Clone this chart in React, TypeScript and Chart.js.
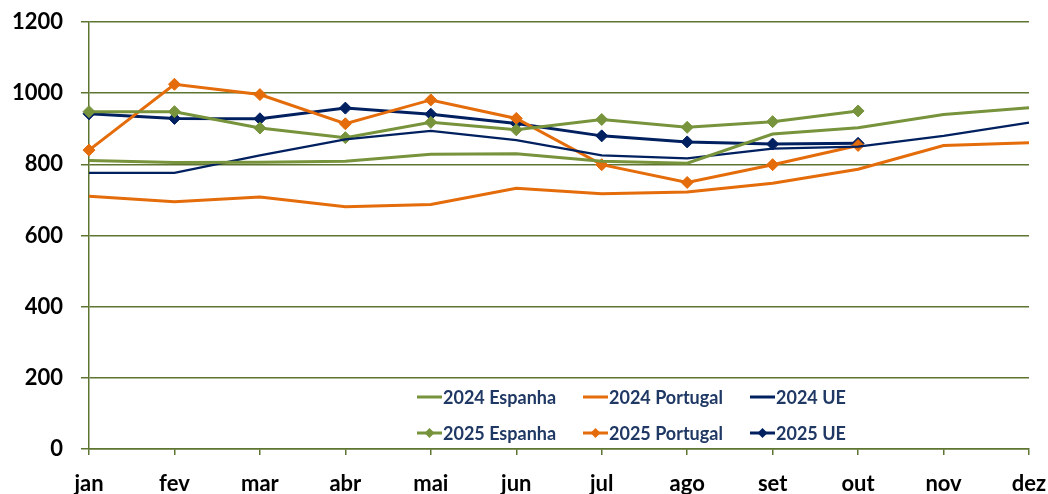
import React, { useEffect, useRef } from "react";
import { Chart, registerables } from "chart.js";

Chart.register(...registerables);

const months = ["jan", "fev", "mar", "abr", "mai", "jun", "jul", "ago", "set", "out", "nov", "dez"];
const yTicks = [0, 200, 400, 600, 800, 1000, 1200];

const es2024 = [811, 805, 806, 809, 828, 830, 809, 803, 885, 903, 940, 959];
const pt2024 = [710, 695, 708, 681, 687, 733, 717, 722, 747, 786, 853, 861];
const ue2024 = [776, 776, 825, 870, 894, 868, 825, 817, 844, 850, 880, 917];
const es2025 = [948, 948, 902, 875, 918, 897, 926, 904, 920, 950, null, null];
const pt2025 = [840, 1025, 996, 914, 981, 929, 799, 749, 799, 853, null, null];
const ue2025 = [942, 929, 928, 958, 941, 915, 880, 863, 857, 859, null, null];

const GREEN = "#77933c";
const ORANGE = "#e46c0a";
const NAVY = "#002060";
const GRID = "#5e7431";
const LEGEND_TEXT = "#1f3864";
const FONT = "Lato, 'Open Sans', sans-serif";

const legendPlugin = {
  id: "customLegend",
  afterDraw(chart: any) {
    const ctx = chart.ctx;
    const cols = [417, 583, 750];
    const rows = [397, 433];
    ctx.save();
    ctx.font = `bold 18px ${FONT}`;
    ctx.textBaseline = "middle";
    ctx.textAlign = "left";
    chart.data.datasets.forEach((ds: any, i: number) => {
      const x = cols[i % 3];
      const y = rows[Math.floor(i / 3)];
      ctx.strokeStyle = ds.borderColor;
      ctx.lineWidth = 3;
      ctx.beginPath();
      ctx.moveTo(x, y);
      ctx.lineTo(x + 25, y);
      ctx.stroke();
      if (ds.pointRadius > 0) {
        const cx = x + 12.5;
        const r = 5;
        ctx.fillStyle = ds.borderColor;
        ctx.beginPath();
        ctx.moveTo(cx, y - r);
        ctx.lineTo(cx + r, y);
        ctx.lineTo(cx, y + r);
        ctx.lineTo(cx - r, y);
        ctx.closePath();
        ctx.fill();
      }
      ctx.fillStyle = LEGEND_TEXT;
      ctx.fillText(ds.label, x + 26, y + 1);
    });
    ctx.restore();
  },
};

export default function App() {
  const ref = useRef<HTMLCanvasElement | null>(null);

  useEffect(() => {
    if (!ref.current) return;
    const line = (label: string, data: (number | null)[], color: string, width: number, marker: boolean) => ({
      label,
      data,
      borderColor: color,
      backgroundColor: color,
      borderWidth: width,
      pointRadius: marker ? 6 : 0,
      pointHoverRadius: marker ? 6 : 0,
      pointStyle: "rectRot",
      pointBorderWidth: 1,
      tension: 0,
      spanGaps: false,
    });
    const chart = new Chart(ref.current, {
      type: "line",
      data: {
        labels: months,
        datasets: [
          line("2024 Espanha", es2024, GREEN, 3, false),
          line("2024 Portugal", pt2024, ORANGE, 3, false),
          line("2024 UE", ue2024, NAVY, 2.2, false),
          line("2025 Espanha", es2025, GREEN, 3, true),
          line("2025 Portugal", pt2025, ORANGE, 3, true),
          line("2025 UE", ue2025, NAVY, 3, true),
        ] as any,
      },
      options: {
        animation: false,
        responsive: false,
        maintainAspectRatio: false,
        layout: { padding: { left: 0, right: 19, top: 22, bottom: 0 } },
        plugins: {
          legend: { display: false },
          tooltip: { enabled: false },
          title: { display: false },
        },
        scales: {
          x: {
            type: "category",
            offset: false,
            grid: {
              drawOnChartArea: false,
              drawTicks: true,
              tickLength: 6,
              color: GRID,
              lineWidth: 1.5,
            },
            border: { display: true, color: GRID, width: 1.5 },
            ticks: {
              color: "#000",
              font: { family: FONT, size: 22, weight: "bold" },
              padding: 16,
              maxRotation: 0,
              autoSkip: false,
            },
            afterFit(scale: any) {
              scale.height = 45;
              scale.paddingLeft = 0;
              scale.paddingRight = 0;
            },
          },
          y: {
            min: 0,
            max: 1200,
            afterBuildTicks(scale: any) {
              scale.ticks = yTicks.map((v) => ({ value: v }));
            },
            grid: {
              drawOnChartArea: true,
              drawTicks: true,
              tickLength: 8,
              color: GRID,
              lineWidth: 1.5,
            },
            border: { display: true, color: GRID, width: 1.5 },
            ticks: {
              color: "#000",
              font: { family: FONT, size: 22, weight: "bold" },
              padding: 18,
              callback: (v: any) => String(v),
            },
            afterFit(scale: any) {
              scale.width = 89;
              scale.paddingTop = 0;
              scale.paddingBottom = 0;
            },
          },
        },
      } as any,
      plugins: [legendPlugin],
    });
    return () => chart.destroy();
  }, []);

  return (
    <div style={{ position: "fixed", left: 0, top: 0, width: 1048, height: 494, background: "#fff" }}>
      <canvas ref={ref} width={1048} height={494} style={{ width: 1048, height: 494, display: "block" }} />
    </div>
  );
}
